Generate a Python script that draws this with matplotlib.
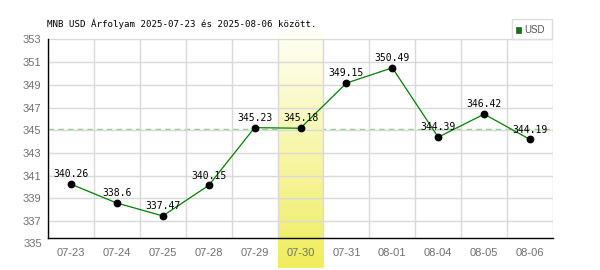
import numpy as np
import matplotlib.pyplot as plt
from matplotlib.patches import Rectangle

dates = ['07-23', '07-24', '07-25', '07-28', '07-29', '07-30',
         '07-31', '08-01', '08-04', '08-05', '08-06']
rates = [340.26, 338.6, 337.47, 340.15, 345.23, 345.18,
         349.15, 350.49, 344.39, 346.42, 344.19]
ref_level = 345.1
highlight = '07-30'
y_ticks = list(range(335, 354, 2))

mono = 'DejaVu Sans Mono'
sans = 'Liberation Sans'

fig = plt.figure(figsize=(6, 2.7), dpi=100)
ax = fig.add_axes([48 / 600, 31.7 / 270, 505 / 600, 199 / 270])
ax.set_facecolor('none')

x = np.arange(len(dates))

# reference level (dashed), sits under the highlight band
ax.axhline(ref_level, color='#80d080', lw=1, ls=(0, (4, 3)), zorder=0.1)

# highlighted day: vertical yellow gradient
hi = dates.index(highlight)
grad = np.linspace(0, 1, 256).reshape(-1, 1)
top = np.array([1.0, 1.0, 0.97])
bot = np.array([0.94, 0.93, 0.36])
img = top + grad[..., None] * (bot - top)
ax.imshow(img, extent=(hi - 0.5, hi + 0.5, -0.149, 1.037), aspect='auto',
          transform=ax.get_xaxis_transform(), clip_on=False, zorder=0.2,
          origin='upper', interpolation='bilinear')
ax.set_xlim(-0.5, len(dates) - 0.5)
ax.set_ylim(335.5, 353)

# grid
ax.set_axisbelow(True)
ax.set_yticks([t for t in y_ticks if t > 335.5])
ax.set_xticks(x)
ax.set_xticklabels(dates)
ax.set_xticks(np.arange(-0.5, len(dates)), minor=True)
ax.grid(True, which='minor', axis='x', color='#d9d9d9', lw=1)
ax.grid(True, which='major', axis='y', color='#d9d9d9', lw=1)
ax.tick_params(axis='both', which='both', length=0)
ax.tick_params(axis='x', pad=7, labelcolor='#707070', labelsize=8)
ax.tick_params(axis='y', pad=5, labelcolor='#707070', labelsize=8)
for lab in ax.get_xticklabels() + ax.get_yticklabels():
    lab.set_fontfamily(sans)
ax.text(-0.012, 335, '335', transform=ax.get_yaxis_transform(), ha='right',
        va='center', color='#707070', fontsize=8, family=sans, clip_on=False)

for s in ['top', 'right']:
    ax.spines[s].set_visible(False)
for s in ['left', 'bottom']:
    ax.spines[s].set_color('black')
    ax.spines[s].set_linewidth(1)

# data
ax.plot(x, rates, color='#008000', lw=0.9, zorder=2)
ax.plot(x, rates, 'o', color='black', ms=4.6, zorder=3)
for xi, v in zip(x, rates):
    ax.annotate(f'{v:g}', (xi, v), xytext=(0, 3.5), textcoords='offset points',
                ha='center', va='bottom', fontsize=7, family=mono, zorder=4)

fig.text(47 / 600, 1 - 24 / 270,
         'MNB USD Árfolyam 2025-07-23 és 2025-08-06 között.',
         fontsize=6.6, family=mono, va='center', ha='left')

# legend box
fig.patches.append(Rectangle((511.5 / 600, 1 - 39.3 / 270), 40.5 / 600, 20 / 270,
                             transform=fig.transFigure, fill=False,
                             edgecolor='#dddddd', lw=1))
fig.patches.append(Rectangle((515.5 / 600, 1 - 32.5 / 270), 5.5 / 600, 5.5 / 270,
                             transform=fig.transFigure, facecolor='#008000',
                             edgecolor='#555555', lw=0.6))
fig.text(524.5 / 600, 1 - 29.8 / 270, 'USD', fontsize=7, family=sans,
         color='#555555', va='center', ha='left')

fig.savefig('out.png', dpi=100)
